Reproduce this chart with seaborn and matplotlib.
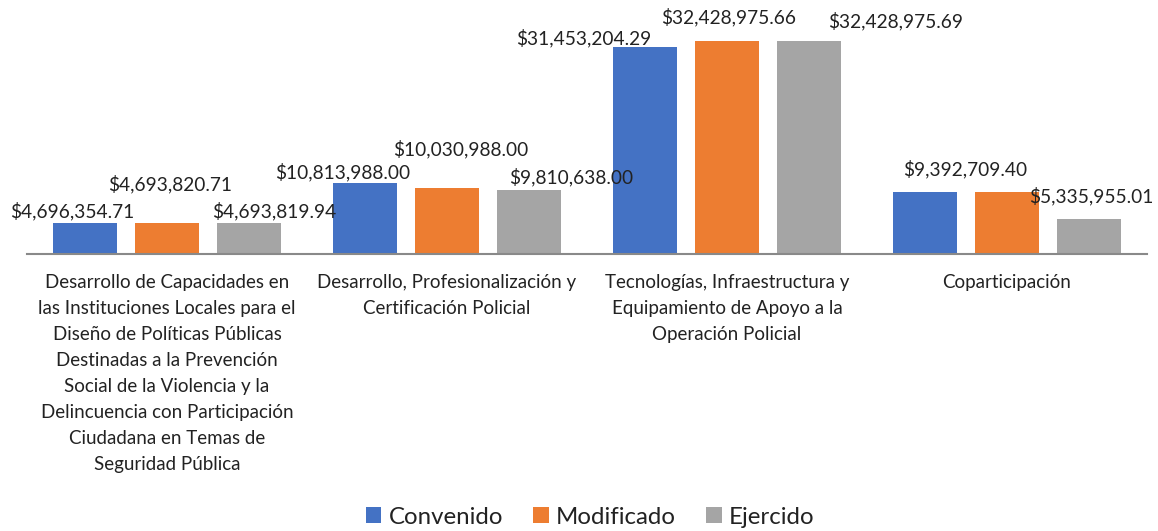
import matplotlib
matplotlib.use("Agg")
import matplotlib.pyplot as plt
import seaborn as sns
import pandas as pd
from matplotlib.patches import Patch

# ---- data ----
categories = [
    "Desarrollo de Capacidades en\nlas Instituciones Locales para el\nDiseño de Políticas Públicas\nDestinadas a la Prevención\nSocial de la Violencia y la\nDelincuencia con Participación\nCiudadana en Temas de\nSeguridad Pública",
    "Desarrollo, Profesionalización y\nCertificación Policial",
    "Tecnologías, Infraestructura y\nEquipamiento de Apoyo a la\nOperación Policial",
    "Coparticipación",
]
series = ["Convenido", "Modificado", "Ejercido"]
convenido = [4696354.71, 10813988.00, 31453204.29, 9392709.40]
modificado = [4693820.71, 10030988.00, 32428975.66, 9392709.40]
ejercido = [4693819.94, 9810638.00, 32428975.69, 5335955.01]

colors = ["#4472C4", "#ED7D31", "#A5A5A5"]

# label offsets (pixels) relative to the top-centre of each bar, per series
label_dx = [[-13, -22, -61, 40], [3, 14, 2, -43], [25, 42, 87, 2]]
label_dy = [[6, 5, 3, 17], [33, 33, 18, 17], [6, 6, 14, 17]]

rows = []
for s, vals in zip(series, [convenido, modificado, ejercido]):
    for c, v in zip(categories, vals):
        rows.append({"cat": c, "serie": s, "valor": v})
df = pd.DataFrame(rows)

sns.set_theme(style="white")
plt.rcParams["font.family"] = ["Lato", "DejaVu Sans"]

W, H = 1158, 531
fig = plt.figure(figsize=(W / 100, H / 100), dpi=100)
ax = fig.add_axes([27 / W, (H - 254) / H, 1120 / W, 236.5 / H])

sns.barplot(data=df, x="cat", y="valor", hue="serie", order=categories,
            hue_order=series, palette=colors, width=0.879, gap=0.21,
            saturation=1, edgecolor="none", linewidth=0, ax=ax, legend=False)

ax.set_ylim(0, 36e6)
ax.set_xlim(-0.5, 3.5)
ax.set_xlabel("")
ax.set_ylabel("")
ax.set_yticks([])
for sp in ["top", "right", "left"]:
    ax.spines[sp].set_visible(False)
ax.spines["bottom"].set_color("#898989")
ax.spines["bottom"].set_linewidth(1.5)
ax.tick_params(axis="x", length=0, pad=14.5, labelsize=13.5, colors="#222222")
ax.set_xticks(range(len(categories)))
ax.set_xticklabels(categories, linespacing=1.64, va="top")

drawn = set()
for si, cont in enumerate(ax.containers):
    for ci, bar in enumerate(cont):
        v = bar.get_height()
        txt = f"${v:,.2f}"
        # identical labels in the same group sit on top of each other; draw once
        if (ci, txt) in drawn:
            continue
        drawn.add((ci, txt))
        ax.annotate(txt, xy=(bar.get_x() + bar.get_width() / 2, v),
                    xytext=(label_dx[si][ci], label_dy[si][ci]),
                    textcoords="offset pixels", ha="center", va="baseline",
                    fontsize=13.8, color="#222222")

handles = [Patch(facecolor=c, edgecolor="none", label=s) for c, s in zip(colors, series)]
fig.legend(handles=handles, loc="center", bbox_to_anchor=(590 / W, 1 - 517 / H),
           ncol=3, frameon=False, fontsize=17.3, handlelength=0.65, handleheight=0.65,
           handletextpad=0.3, columnspacing=1.25, labelcolor="#222222")

fig.savefig("out.png", dpi=100)
